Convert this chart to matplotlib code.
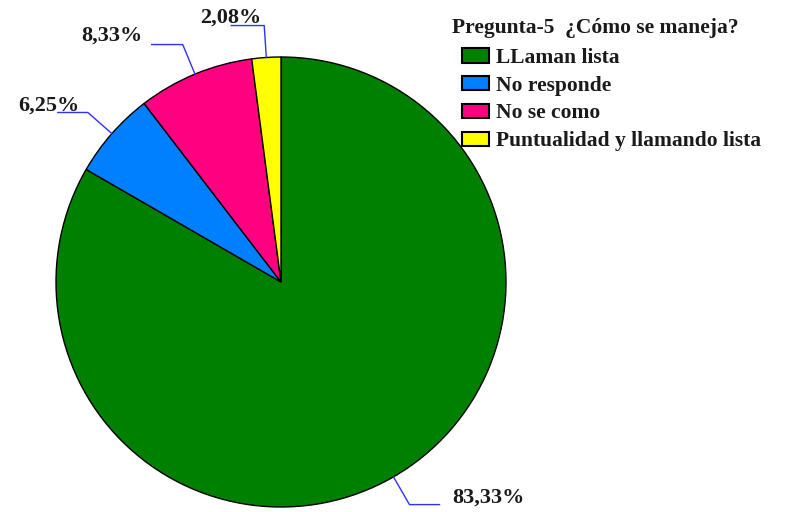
import numpy as np
import matplotlib.pyplot as plt

categorias = ["LLaman lista", "No responde", "No se como", "Puntualidad y llamando lista"]
porcentajes = [83.33, 6.25, 8.33, 2.08]
colores = ["#008000", "#0080FF", "#FF0080", "#FFFF00"]
titulo = "Pregunta-5  ¿Cómo se maneja?"

# posiciones de las etiquetas (pixeles de la imagen) y largo del tramo horizontal
pos_texto = [(488, 498), (49, 106), (112, 36), (231, 18)]
tramo = [30, -30, -31, -33]

W, H = 810, 512
fig = plt.figure(figsize=(W / 100, H / 100), dpi=100)
ax = fig.add_axes([0, 0, 1, 1])

cx, cy, r = 281, H - 282, 225
fuente = dict(family="Liberation Serif", weight="bold")

wedges, _ = ax.pie(porcentajes, colors=colores, startangle=90, counterclock=False,
                   center=(cx, cy), radius=r, frame=True,
                   wedgeprops=dict(edgecolor="black", linewidth=1.0))
ax.set_xlim(0, W)
ax.set_ylim(0, H)
ax.set_aspect("equal")
ax.axis("off")

for w, v, (tx, ty), dx in zip(wedges, porcentajes, pos_texto, tramo):
    ang = np.deg2rad((w.theta1 + w.theta2) / 2)
    x0, y0 = cx + r * np.cos(ang), cy + r * np.sin(ang)
    x1, y1 = cx + (r + 32) * np.cos(ang), cy + (r + 32) * np.sin(ang)
    ax.plot([x0, x1, x1 + dx], [y0, y1, y1], color="#3030FF", lw=1.0)
    ax.text(tx, H - ty, f"{v:.2f}".replace(".", ",") + "%", ha="center", va="center",
            fontsize=16, color="#1a1a1a", **fuente)

# titulo de la leyenda
ax.text(452, H - 28, titulo, ha="left", va="center", fontsize=15.5, color="#1a1a1a", **fuente)

leg = ax.legend(wedges, categorias, loc="upper left",
                bbox_to_anchor=(462 / W, 1 - 48 / H), frameon=False,
                prop=dict(size=15.5, **fuente),
                handlelength=1.25, handleheight=0.65,
                handletextpad=0.35, labelspacing=0.36, borderpad=0, borderaxespad=0)
for h in leg.legend_handles:
    h.set_linewidth(1.5)
for t in leg.get_texts():
    t.set_color("#1a1a1a")

fig.savefig("out.png", dpi=100)
